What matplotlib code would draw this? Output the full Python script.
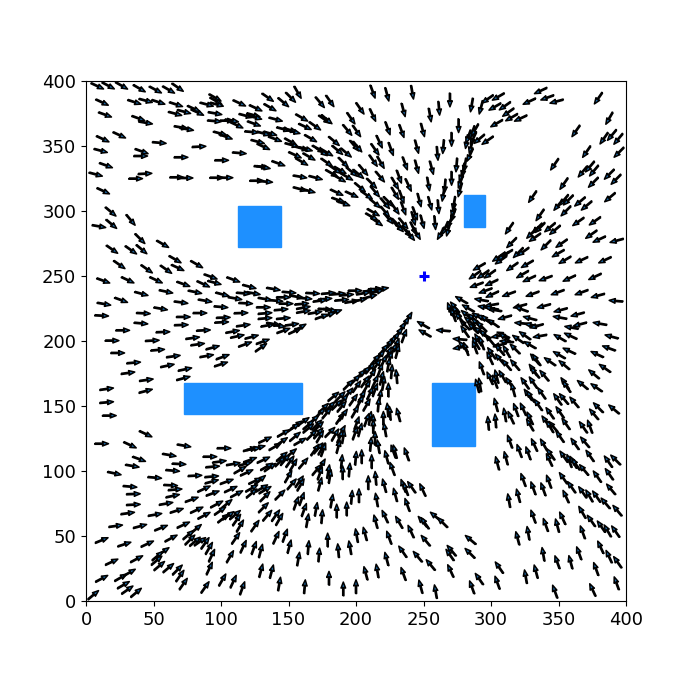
import numpy as np
import matplotlib
matplotlib.use('Agg')
import matplotlib.pyplot as plt
from matplotlib.patches import Rectangle

# arrow centres (data units) and screen direction in degrees, by picture region
nw_x = [8.4,16.5,26.4,39.5,51.4,61.2,67.9,11.9,35.8,44.2,53.6,66.7,79.8,82.5,89.4,95.6,96.3,96.8,95.6,66,72.6,113.6,125.7,
        14.1,38.8,44.2,95.1,104.2,107.9,111.6,118.3,124,125.2,124.4,70.4,74.6,99.3,103.5,122.7,127.2,
        12.4,24.7,54.3,83.7,41.2,40.5,70.4,100.5,113.6,10.9,14.8,7.2,129.6,43.7,36.8,67.2,74.1,96.8,103.7,126.4,
        12.8,18.3,33.1,9.6,18.8,40,56.8,19.3,33.3,41.2]
nw_y = [396.1,396.4,396.4,394.3,393.3,393.3,395.1,383.6,383.8,384.9,383.8,382,378.7,375.9,382,387.2,384.6,382,375.1,374.9,376.4,383,379.2,
        374.1,371.3,367.9,369.2,369.5,369.5,366.1,373.3,373.8,372,367.2,364.3,363,359.7,357.2,360.8,353.3,
        355.4,358.4,352.5,349.5,345.9,342.3,341.3,339,344.6,346.4,335.1,328.2,334.1,328.7,324.9,325.9,325.4,325.6,325.6,323.3,
        315.4,299.5,293.1,288.2,290,278.7,274.6,270.5,270,270.5]
nw_deg = [-25,-28,-30,-30,-28,-30,-35,-25,-18,-15,-18,-18,-25,-25,-15,-30,-30,-15,-10,-15,-15,-25,-25,
          -20,-20,-10,-5,0,-10,-25,-15,-15,-15,-20,-10,-10,-15,-20,-5,-15,
          -25,-25,-5,3,-20,0,0,0,-5,-15,-20,-15,-5,3,0,0,0,0,0,0,
          -25,-40,-50,-10,-40,-45,-30,-35,-35,-40]

n_x = [156.8,151.6,146.2,134.6,136.3,173.3,180.7,203,212.4,223,241.7,212.4,196.3,235.1,254.8,261.5,
       159.8,162.2,169.6,140.5,176.6,178.3,193.6,200.5,223.5,233.8,249.4,
       146.2,151.1,153.6,136.3,131.4,140,166.4,183.7,151.6,152.4,159.8,162.7,131.4,
       172.1,174.6,178.3,186.2,192.6,198.8,201,214.1,217.3,225.9,245,260.3,
       154.8,165.2,159.8,142.5,212.8,218.3,236.3,245,256,
       178.3,190.6,184.5,188.2,131.4,196.8,201.7,205.4,158.5,170.1,182,187.7,193.1,217.8,231.9,228.9,238.8,253.6,
       133.1,158.5,164.7,185.7,196.8,203,211.6,214.1,228.9,233.8,246.9,254.8,
       186.9,190.6,207.9,214.1,221.5,224,235.1,228.9,261,
       212.8,215.3,211.6,221.5,224,230.1,235.1,237.5,240,231.4,243.7,242.5,249.1,258.5,242.5,245]
n_y = [391.3,387.4,383.6,387.4,379.7,383.6,384.6,378.9,391.8,389.7,391.3,373.8,371.3,377.7,373.8,379,
       371.8,364.9,365.4,370.5,370.5,370.5,362.3,361.5,363.6,361.5,362.3,
       363,362.3,361,359.7,359.7,355.4,355.9,353.8,353.3,350.8,348.2,347.7,349.5,
       347.7,345.6,345.1,346.9,344.9,350.2,349.5,347.4,353.3,347.7,349.5,344.3,
       343.1,341.8,337.9,336.6,338.7,337.4,336.6,334.1,333.3,
       337.4,337.4,332,331.5,333.6,330.2,328.5,331.5,326.4,325.6,329,325.1,326.4,326.4,326.4,321.3,320,320.8,
       322.6,316.9,315.6,314.3,312.8,318.2,321.3,314.9,313.6,311,308.4,305.9,
       308.4,305.9,312.3,305.9,305.9,307.2,302,302,303.3,
       299,291.8,295.6,299.5,294.3,290.5,290.5,284.1,281.5,287.9,298.2,294.3,291.8,291,286.7,282.8]
n_deg = [-60,-45,-40,-35,-30,-50,-55,-55,-70,-75,-80,-65,-55,-75,-80,-85,
         -30,-25,-35,-15,-35,-40,-50,-55,-70,-70,-75,
         -15,-15,-15,-15,-15,-20,-30,-40,-30,-15,-15,-15,-25,
         -30,-35,-30,-40,-40,-50,-50,-55,-65,-70,-75,-85,
         -25,-30,-30,-20,-55,-60,-70,-75,-75,
         -35,-45,-35,-30,-10,-40,-40,-50,-10,-15,-30,-30,-30,-50,-70,-60,-65,-80,
         -5,-15,-15,-25,-25,-40,-45,-50,-60,-70,-75,-75,
         -20,-20,-35,-40,-50,-45,-70,-55,-85,
         -30,-35,-30,-50,-50,-45,-50,-50,-50,-45,-70,-75,-75,-85,-65,-60]

ne_x = [269.6,285.7,292.6,297.5,305.4,302.9,310.3,312.8,315.3,322,304.2,328.4,341.7,336.8,348.6,
        276,270.8,264.7,282,283.2,286.1,288.1,286.9,291.3,297.5,285.2,284.4,274.5,280.7,279.5,278.2,277.5,277,270.8,265.9,264.7,272.6,272,272,269.6,268.4,265.9,262.9,
        387.6,362.9,383.7,389.6,394.3,394.8,370.8,379.5,347.1,373.3,367.9,376.3,387.6,392.6,375.8,354,330.8,354,349.9,357.3,355.5,365.9,370.8,388.1,364.7,377,336.3,313.6,347.4,343.7,336.3,334.3,330.1,332.6,374.3,380.2,393.1,315.3,340.7,352.3,311.6,320.2,323.9,349.8]
ne_y = [385.4,381.5,379.7,386.1,387.9,380.2,380.8,375.9,372,371.3,367.4,384.3,387.2,392.5,384.3,
        365.6,355.1,349.5,353.3,357.2,360.5,362.3,355.9,355.4,354.3,349.5,343.1,335.4,335.4,331.5,327.7,322.6,316.1,325.1,319.2,312.8,305.9,300.8,296.9,291.8,285.9,286.7,282.8,
        371.3,361.5,355.9,358.4,355.4,345.1,345.6,386.7,335.9,334.1,330.2,331,328.2,324.3,322,321,311,308.4,304.6,308.4,300,307.2,304.1,310.5,291.8,292.3,296.9,286.7,285.4,287.4,287.2,286.7,282.8,279.7,282,278.2,277.2,275.6,273.8,275.1,267.4,267.9,268.7,267.4]
ne_deg = [-90,-100,-105,-145,-150,-150,-145,-145,-150,-155,-150,-155,-160,-155,-165,
          -90,-90,-95,-100,-110,-110,-120,-115,-140,-145,-105,-115,-95,-100,-100,-110,-110,-105,-90,-95,-100,-100,-105,-110,-115,-105,-115,-120,
          -120,-125,-125,-130,-130,-135,-125,-125,-125,-130,-130,-130,-135,-135,-135,-125,-125,-130,-130,-135,-135,-140,-140,-140,-145,-145,-125,-125,-140,-140,-135,-135,-135,-145,-145,-155,-165,-135,-135,-145,-150,-135,-145,-150]

w_x = [66,67.9,82,24.7,45,59.3,12.8,30.9,51.9,72.1,86.9,92.3,95.1,109.1,121,
       41,59.3,80.7,101,116.5,124,110.4,13.3,26,70.4,88.2,100,118.3,55.3,
       11.6,42.5,72.1,84.4,114.8,101.7,40.7,70.6,100.5,116.5,27.2,57,87,108.6,134.6,
       19.3,49.1,79,112.1,122.7,82.7,117.8,93.8,23.5,53.1,64.7,89.4,101.2,
       35.3,60.3,73.3,100,31.1,44.7,72.1,15.3,15.3,17.3,44.2]
w_y = [262.8,256.4,259,258.7,255.4,255.1,246.4,246.9,246.9,243.8,243.8,249.5,244.9,247.2,241.8,
       236.4,238,237.7,235.9,236.7,236.7,232.8,228.5,231.5,229.7,231,226.2,229,224.9,
       219.5,221.3,218.5,221.5,221.5,218,213.6,212.3,214.4,212,208.2,206.9,208.2,207.2,212,
       200.3,200.3,202.3,203.6,203.1,197.4,197.4,194.9,190.8,193.1,188.2,188.5,187.7,
       183.3,181,178.2,182.1,175.4,170,171.3,163.1,152.8,142.6,161.5]
w_deg = [-30,-25,-30,-35,-35,-35,-20,-25,-25,-20,-25,-20,-15,-20,-15,
         -15,-12,-12,-15,-5,-10,-10,-10,-20,-8,-10,-5,-3,-10,
         -3,-3,0,0,2,2,-5,2,3,8,0,2,3,10,10,
         0,3,8,12,15,8,20,15,0,5,8,10,20,
         5,12,12,18,8,8,15,8,5,0,15]

c_x = [138.8,150.4,167.9,132.6,140.7,146.2,156,162.2,179.5,186.9,199.3,214.1,219,210.4,205.4,193.1,177,173.3,189.4,196.8,203,210.4,215.3,
       148.2,159.8,131.4,144.5,161,161,132.6,169.6,177,180.7,184.5,179.5,174.6,132.6,146.2,138.8,142.5,152.4,146.2,154.8,158.5,130.9,129.6,
       238.8,236.5,233.8,231.4,235.6,228.9,226.4,230.1,224,227.7,220.3,224,217.8,230.6,214.1,225.2,220.3,215.3,224,210.4,206.7,217.8,211.6,203,226.4,230.1,
       199.3,219,214.1,206.7,200.5,194.3,207.9,220.3,214.1,188.2,183.2,194.3,190.6,204.2,210.4,198,203,224,217.8,216.6,207.9,199.3,189.4,185.7,180.7,175.8,
       173.3,178.3,168.4,161,164.7,156,188.2,190.6,225.2,223.5,231.4,220.3,210.4,207.9,212.8,200.5,170.9,249.9,251.1,264.7]
c_y = [240,237.4,236.7,232.3,231,233.6,234.1,232.8,236.7,236.2,238.7,240,240,238.7,236.7,235.4,232.3,231,231.5,230.3,231.5,234.1,237.9,
       228.7,228.5,225.9,224.1,225.6,222.6,221.3,221.8,224.4,223.8,222.1,220,218.7,217.4,217.4,213.1,211.8,212.6,207.9,207.7,210.3,199.5,194.9,
       217.4,213.6,209.7,205.9,203.8,202,199.5,196.9,196.9,193.1,193.1,190.5,188.5,191.8,185.4,186.7,184.1,181.5,181.5,179,176.4,177.7,173.9,173.9,176.4,172.6,
       170,171.3,168.7,168.7,164.9,166.2,164.9,167.4,162.3,157.2,157.2,159.7,154.6,157.2,159.7,154.6,153.3,162.3,157.2,150.8,150.8,145.6,149.5,150.8,149.5,148.2,
       144.4,144.4,139.2,138,135.4,135.4,140.5,143.1,144.4,146.9,143.1,140.5,140.5,139.2,138,136.7,135.4,212.3,205.9,208]
c_deg = [-10,-5,-3,-10,-5,0,-10,-5,5,5,0,3,10,8,10,5,5,8,5,10,12,15,15,
         0,5,0,5,10,10,5,10,-5,-10,20,20,20,5,5,-10,-10,8,20,25,30,20,35,
         60,60,60,55,70,55,55,70,55,65,50,65,50,75,50,75,65,55,80,50,45,70,55,45,85,95,
         45,75,65,55,55,45,60,80,70,45,40,50,50,60,65,55,60,90,80,85,60,60,50,45,45,45,
         45,50,40,35,40,35,55,55,95,95,105,90,80,70,90,70,45,150,150,175]

e_x = [305.4,307.4,309.1,354.8,367.1,384.4,291.3,288.1,294.3,299.2,315.8,326.9,323.4,328.4,340.5,358,377,
       289.4,300.5,296,301,313.3,330.8,349.4,367.1,379.2,392.6,
       278.2,270.8,269.6,273.3,272.1,274.5,283.2,293,300.5,302.9,295.5,300.5,310.3,321.5,322.7,339.2,351.6,364.2,
       282,286.9,290.6,294.3,284.4,289.4,293.1,280.7,277,301.7,296.8,280.7,286.9,291.8,299.2,295.5,
       277,277,281.5,279.5,288.9,290.6,288.1,293.1,305.4,309.1,310.3,306.6,311.6,306.6,311.6,317.8,320.2,325.2,328.9,336.3,351.1,359,389.4,387.4,378.7,358,350.6,
       322.7,328.9,330.1,333.8,351.1,359.7,365.9,380.7,
       300.5,306.6,311.6,317.8,299.2,293.1,332.6,333.8,343.7,354.3,384.4,
       299.2,304.2,303,291.8,289.9,308.6,314,316.5,325.2,331.3,332.6,339.5,331.3,337.5,354.8,356,367.9,378.2,376.3,
       303.7,318.5,310.3,314.8,323.9,327.6,329.4,335,343.7,351.1,349.4,354,361.7,376.3,379.5,391.1,298,303.4,328.9,328.9,340.7,346.1,355.5,368.4,373.3]
e_y = [264.4,262.3,265.4,262.3,262.3,262.3,257.2,250.8,251.3,251.5,257.2,259.2,251.3,247.9,248.2,248.2,249.5,
       243.1,244.9,238.7,235.9,236.2,236.2,237.4,237.4,234.9,230.8,
       231.5,222.6,224.4,225.9,220,222.6,225.1,231.5,227.7,223.8,225.9,225.1,218.2,226.9,224.4,226.9,223.8,220.5,
       220,217.4,218.7,217.4,214.9,213.6,211,212.3,217.4,213.6,216.2,207.2,209.7,207.2,200.8,204.6,
       201.3,195,193.9,195.6,198.2,200.8,195.1,198.2,203.8,204.6,202.8,196.9,199.5,193.1,191.8,193.9,201.3,204.1,196.9,203.8,202.3,203.8,203.3,194.4,189.7,192.3,189.2,
       213.6,217.4,212.3,211.5,218,210.3,212.8,213.3,
       190.5,185.9,181.5,181.5,186.7,179,185.9,185.4,184.1,181.5,179,
       171.3,172.6,168.7,166.2,165.4,172.6,167.4,162.3,167.4,177.7,175.6,173.3,168,159.7,167.4,164.9,166.2,164.1,174.4,
       150.8,146.9,143.1,141,147.4,158.5,157.2,150.8,144.4,145.1,155.1,155.4,152.8,143.6,148.7,147.4,136.7,138.5,140.5,135.4,138,134.1,136.2,133.6,134.1]
e_deg = [-145,-145,-145,-150,-155,-155,-150,-145,-145,-145,-145,-150,-150,-155,-160,-155,-155,
         -160,-155,-160,-155,-160,-160,-160,-160,-165,175,
         150,120,110,130,110,130,150,170,-170,170,170,170,-165,-165,160,-165,-165,-165,
         140,140,150,150,140,135,135,135,130,145,140,125,135,140,130,135,
         175,-170,110,130,120,120,110,110,-170,155,140,-165,175,130,120,135,145,145,150,-170,150,155,165,160,155,155,150,
         175,165,170,-165,170,170,-165,170,
         125,130,130,130,115,110,130,125,145,140,145,
         115,105,110,100,105,120,125,105,125,125,130,130,125,125,125,125,140,145,140,
         105,110,100,115,115,125,125,125,125,125,125,130,130,130,135,140,95,95,115,120,125,130,125,125,110]

sw_x = [11.6,32.6,44.2,72.6,102.2,121.5,127.7,124,61.7,39.3,68.9,91.8,98.8,34.3,93.8,109.1,117.8,121.5,21,64.2,80.7,50.9,93.1,93.1,114.1,119,104.2,125.2,129,
        32.6,62.7,66,35.1,64.2,87.4,93.8,107.2,111.6,122.7,122.7,35.1,59.3,78.3,30.9,51.1,67.2,82,96.8,104.2,87.4,99.3,101.7,105.4,110.4,111.6,114.1,125.2,
        22,40,55.6,72.1,63,81.5,75.8,77,80.7,84.4,88.2,91.1,11.6,28.4,45.4,110.9,116.5,124.4,93.1,106.7,19,37.5,57.3,52.9,52.3,54.3,61,67.7,91.4,69.6,
        11.6,25.7,32.1,27.7,30.6,37.1,72.1,88.2,101,109.1,115.8,5.4]
sw_y = [121,120,128.5,119.5,117.5,116.7,118,117,112.3,109.2,105.4,111,107.2,103.9,103.3,105.4,105.4,108.5,98.2,100.3,96.4,94.9,95.7,91.8,100.8,98.7,91.8,92.3,93.1,
        88,89,85.7,82.3,80.8,86.2,82.8,85.9,82.3,86.7,82.8,74.1,74.9,78,67.5,66.4,69.5,70,74.4,74.6,65.7,69.3,63.6,65.7,66.2,62.3,57.7,57.7,
        57.7,57.5,56.2,58.5,48.2,55.4,50.8,47,45.7,45.7,44.4,40.5,46.7,43.6,43.9,48.2,41.8,40.8,34.9,34.1,30,32.3,38,34.6,31.1,27,25.4,23.9,25,19.3,
        17.2,18,21.8,12.3,8.5,6.4,13.1,10.5,16.2,14.9,9.8,4.6]
sw_deg = [0,-25,-25,-10,0,15,15,10,-10,-20,-3,0,8,-10,5,10,15,20,-12,-5,3,-5,5,15,30,25,20,25,40,
          -5,-3,5,2,12,25,20,25,28,30,40,3,10,20,8,10,18,25,28,40,28,35,38,35,40,55,60,55,
          8,15,22,25,28,40,40,45,40,35,55,60,22,18,25,55,65,70,65,60,25,28,35,40,40,40,40,45,65,55,
          28,30,30,30,35,40,55,55,60,65,70,40]

s_x = [132.6,146.2,153.6,164.7,172.1,140,145,154.8,158.5,167.2,172.1,180.7,189.4,199.3,203,212.8,221.5,214.1,210.9,216.6,227.7,228.9,222.7,237.5,226.9,
       190.6,186.9,188.2,184.5,173.3,169.6,174.6,175.8,172.1,145,151.9,143.7,147.4,153.6,131.4,136.3,133.8,151.1,161,170.9,174.6,179.5,173.3,189.4,199.8,204.2,211.6,190.1,195.1,
       180.7,173.3,149.9,152.4,158,159,143.7,132.6,130.1,132.6,131.4,
       209.1,214.6,221,235.1,236.8,241.2,249.4,229.1,238,215.3,202.2,196.8,182,193.1,185.7,170.4,161.5,155.6,159.8,134.3,140.5,143.2,164,174.8,
       214.6,221.5,231.9,249.4,259,264.2,251.1,206.7,200.5,179,150.6,140.8,147.4,164.7,195.6,186.9,172.6,157.3,224.5,240.7,251.6,234.6,245.7,222.7,255.3,129.4,
       215.8,207.2,235.1,180,137.5,129.6,143.2,162,190.6,200,247.9,259]
s_y = [123.9,129,133.4,132.8,134.1,118.7,122.6,126.4,122.6,127.7,129,129.8,130.3,129,131.6,134.1,131.6,125.1,120.5,118.7,114.9,114.9,110.5,112.8,101.6,
       126.4,118.7,126.4,127.7,126.4,116.2,117,116.2,117.5,111,113.6,107.2,108.5,104.6,108.5,102.8,103.3,107.2,105.9,100.8,104.6,99.5,98.2,107.2,109.8,111,107.2,98.7,100.8,
       95.7,89.8,95.7,89.8,91.8,89.3,81.6,85.4,86.7,80.3,71.8,
       91,94.4,88.7,88.5,86.2,87.5,85.4,81.6,73.9,77.7,81,79.8,76.9,70.8,69.2,70.5,70,75.1,78.5,65.7,65.7,62.8,61.8,64.9,
       61,64.9,60.5,61,64.9,60.3,59.8,51.6,50.3,46.9,41.8,48.7,50.3,41.1,41,38.7,35.4,32.3,48.7,53.4,46.4,37.9,34.1,32.3,27.7,38.5,
       23.1,21.3,20.8,17.5,22.6,23.3,13.1,11,9.3,11,11,7.2]
s_deg = [25,30,35,40,45,30,35,40,30,45,50,45,60,70,75,90,100,90,85,100,110,105,105,110,110,
         80,75,65,60,60,55,60,70,50,40,40,45,50,60,25,35,30,55,50,50,60,80,70,85,85,90,90,90,85,
         80,75,60,50,55,60,45,30,30,45,45,
         90,95,105,110,110,125,115,105,110,100,90,85,80,90,90,80,70,70,70,50,55,60,80,85,
         105,115,120,130,140,135,125,105,100,90,75,65,70,85,100,95,85,80,110,115,130,125,130,105,130,75,
         100,105,110,90,75,75,80,85,90,90,105,100]

se_x = [343.7,351.1,314,321,327.6,332.1,339.2,344.2,343.2,362.2,369.6,373.3,304.7,311.1,354,358,361,362.9,368.9,386.9,392.3,
        323.9,331.3,338.7,342.9,353.6,359.7,378.7,387.6,355.5,367.9,372.8,378.2,384.9,388.9,313.3,320.2,
        331.3,340.5,349.1,353,367.6,374.3,381.7,386.4,392.3,393.6,367.9,319.7,327.6,284.9,270.8,269.6,284.4,
        338.7,349.1,359,365.2,381.2,387.4,393.8,377.8,270.1,306.1,291.3,285.9,304.7,325.7,333.3,347.4,375.3,393]
se_y = [134.1,126.4,122.6,115.4,113.6,120,120,112.8,108.5,120.8,122.1,111.6,105.9,109.8,111,107.7,106.7,105.1,100.8,107.2,108.5,
        93.1,86.7,85.9,91.8,94.4,87.5,95.7,97.5,80.3,83.6,80.8,80.3,75.1,85.9,77.2,81,
        64.9,58.5,58,63.6,68.2,61.6,57.2,53.9,53.4,69.5,52.8,48.2,52.1,47,38.7,35.4,36.7,
        35.9,29.8,29.8,36.7,41.3,34.1,29.8,24.6,23.1,25.7,16.9,10.5,14.1,18.7,22.6,7.2,8.5,13.6]
se_deg = [120,125,110,110,110,115,120,125,115,125,130,125,105,105,125,110,120,125,130,125,135,
          110,110,110,110,125,125,125,125,115,125,120,125,130,130,100,105,
          110,110,105,115,120,125,125,120,125,130,110,105,100,140,130,125,135,
          100,110,105,110,115,115,125,110,115,125,125,110,110,100,105,110,115,110]

obstacle_x0 = [112.6, 280, 72.6, 256]
obstacle_y0 = [272, 287.5, 143.5, 119.5]
obstacle_w = [32, 15.5, 87.5, 32.5]
obstacle_h = [32, 24.5, 24.5, 48.5]
goal = (250, 250)

x = np.array(nw_x + n_x + ne_x + w_x + c_x + e_x + sw_x + s_x + se_x)
y = np.array(nw_y + n_y + ne_y + w_y + c_y + e_y + sw_y + s_y + se_y)
deg = np.array(nw_deg + n_deg + ne_deg + w_deg + c_deg + e_deg + sw_deg + s_deg + se_deg)
u = np.cos(np.radians(deg))
v = np.sin(np.radians(deg))

fig = plt.figure(figsize=(6.95, 6.75), dpi=100)
ax = fig.add_axes([86 / 695, 74 / 675, 540 / 695, 520 / 675])

for x0, y0, w, h in zip(obstacle_x0, obstacle_y0, obstacle_w, obstacle_h):
    ax.add_patch(Rectangle((x0, y0), w, h, color='dodgerblue', zorder=1))

ax.quiver(x, y, u, v, pivot='mid', units='inches', scale_units='inches', scale=7.3,
          width=0.012, headwidth=3.8, headlength=5, headaxislength=4.5,
          facecolor='#1c6aa8', edgecolor='black', linewidth=1.1, zorder=2)
ax.plot(goal[0], goal[1], '+', color='blue', ms=7, mew=2.2, zorder=3)

ax.set_xlim(0, 400)
ax.set_ylim(0, 400)
ax.set_xticks(range(0, 401, 50))
ax.set_yticks(range(0, 401, 50))
ax.tick_params(labelsize=13)
fig.savefig('out.png', dpi=100)
